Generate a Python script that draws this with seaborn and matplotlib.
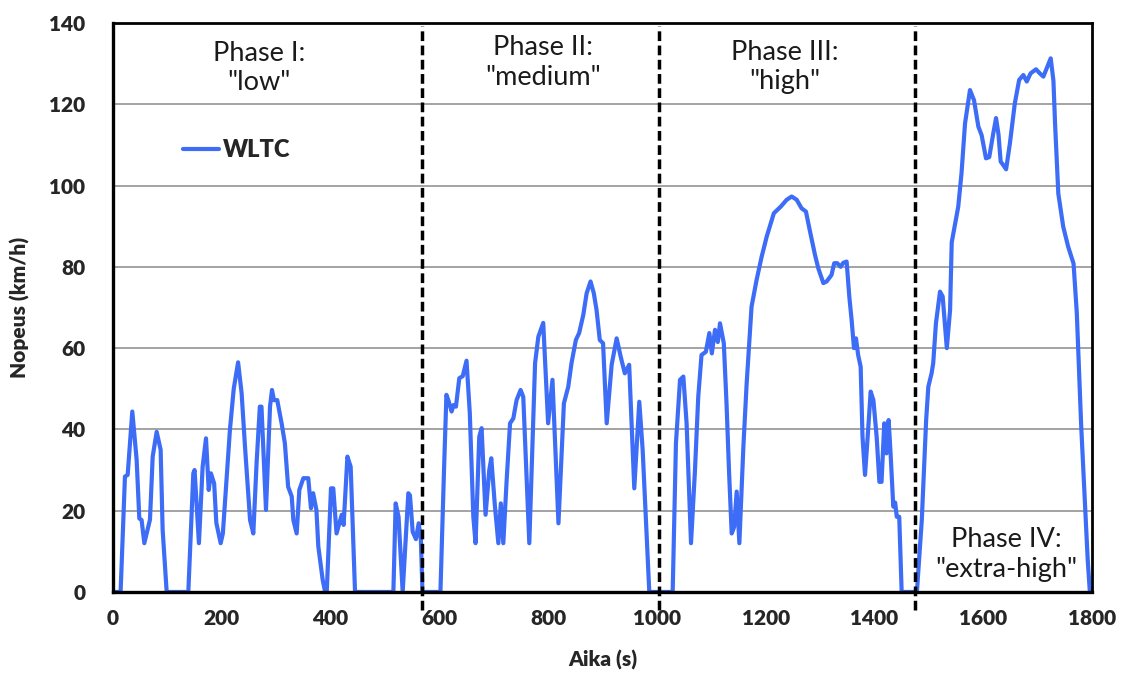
import numpy as np
import pandas as pd
import seaborn as sns
import matplotlib.pyplot as plt

"""
WLTC speed profile, read off the reference
"""
time_s = [0, 14, 22, 27, 35.5, 43.5, 48.4, 52.6, 57.6, 61.9, 68, 73, 80.3, 87.6, 91.3, 98.7,
          138.5, 147.7, 150, 158, 164.8, 171, 176, 180, 186, 190, 198, 202, 215, 222, 230,
          236.5, 242.7, 252, 258, 264, 270, 273, 281.3, 288.7, 292.3, 296, 302, 310, 316,
          322, 328.6, 331.6, 337.7, 342.6, 350, 359, 364, 368, 374, 377.5, 385.5, 390, 393,
          400.8, 405, 411, 420.5, 424, 431, 437, 445, 515.5, 519.7, 525, 532.6, 543, 546,
          551, 557, 562, 566, 569,
          # phase II
          602, 608.6, 613, 617, 622.6, 626, 630.5, 636.7, 643, 650, 656, 662.5, 666.6, 673.4,
          677.7, 685, 691.8, 695.5, 702, 708.5, 713, 717.6, 723.8, 730, 736, 742, 749.4, 754.3,
          765.4, 776, 782, 791, 800, 808, 819, 829, 837, 843, 851, 857, 864.7, 870.8, 878,
          884, 889, 895, 901, 907.7, 916.8, 926, 933.4, 941, 949, 958.4, 967.6, 973.8, 986,
          # phase III
          1029, 1035, 1042.5, 1048.6, 1054.6, 1062.7, 1070, 1076, 1082, 1090, 1096.4, 1101,
          1106.8, 1112, 1116, 1123, 1128, 1132.5, 1137.5, 1142, 1146.7, 1151.6, 1159, 1165,
          1174, 1183.3, 1192.6, 1201.8, 1215, 1227.6, 1238.6, 1247.8, 1257, 1266, 1274,
          1281.5, 1290.7, 1296.8, 1306, 1312, 1321, 1326, 1331.5, 1337.8, 1342.6, 1348.8,
          1353.7, 1358, 1362.3, 1366, 1370, 1374.6, 1378, 1382.6, 1386.7, 1393, 1398, 1404,
          1409, 1413, 1418, 1422, 1426, 1429.6, 1434.6, 1438, 1441, 1445.5, 1450,
          # phase IV
          1478, 1487, 1495, 1499, 1505, 1508, 1513, 1520.5, 1525.4, 1533, 1539, 1542, 1554,
          1560, 1566.5, 1575.6, 1583, 1591, 1597, 1605, 1611, 1618.5, 1623.5, 1628, 1632,
          1637, 1642, 1649, 1658, 1666, 1673.7, 1680, 1687, 1697, 1704, 1710.5, 1718, 1724,
          1729, 1732, 1738, 1747, 1756, 1766, 1772, 1780, 1784, 1792, 1796, 1800]

speed_kmh = [0, 0, 28.4, 28.8, 44.4, 32.5, 18.1, 17.7, 12, 14.4, 17.8, 33.3, 39.4, 35, 15.3, 0,
             0, 29.2, 30, 12, 30.8, 37.8, 25.1, 29.2, 26.7, 17, 12, 14.4, 39.9, 50, 56.5,
             48.9, 35.8, 17.7, 14.4, 31.7, 45.6, 45.6, 20.2, 45.6, 49.7, 47.2, 47.2, 41.5, 36.6,
             25.9, 23.5, 17.7, 14.4, 25.1, 28, 28, 20.6, 24.3, 20.2, 11.2, 3, 0, 0,
             25.5, 25.5, 14.4, 19, 16.5, 33.3, 30.8, 0, 0, 21.8, 18.5, 0, 24.3, 23.8,
             14.8, 13, 16.9, 13, 0,
             0, 30, 48.5, 47, 44.4, 46, 45.6, 52.6, 53.1, 56.9, 44, 18.5, 12, 38.2,
             40.3, 19, 30, 32.9, 21.4, 12, 21.8, 12, 27.6, 41.5, 42.7, 47.2, 49.7, 48,
             12, 56.3, 62.8, 66.2, 41.5, 52.2, 16.9, 46.4, 50.5, 56.3, 62, 63.7, 68.2, 73.5, 76.4,
             73.5, 69.4, 62, 61.2, 41.5, 55.9, 62.4, 57.9, 53.8, 55.9, 25.5, 46.8, 35, 0,
             0, 36.6, 52.2, 53, 41.5, 12, 30, 48, 58.3, 59.1, 63.7, 58.7,
             64.5, 61.5, 66.1, 61.2, 46.4, 30, 14.4, 16, 24.7, 12, 35.8, 51.3,
             70.2, 76.8, 82.5, 87.4, 93.2, 94.8, 96.5, 97.3, 96.5, 94.4, 93.6,
             88.7, 82.9, 79.6, 76, 76.4, 78, 80.9, 80.9, 80, 81, 81.3,
             72.7, 66.9, 60, 62.4, 58.3, 55.4, 38.2, 28.8, 36.6, 49.3, 47.2, 38.2,
             27.1, 27.1, 41.5, 34.1, 42.3, 34.1, 21, 22, 18.5, 18.5, 0,
             0, 17.7, 42.3, 50.5, 53.8, 56.3, 66.1, 73.9, 72.7, 60, 69.4, 86, 94.8,
             103, 115.3, 123.5, 121, 114.5, 112.4, 106.7, 107, 112.9, 116.6, 112.6, 105.9,
             105, 104, 110.4, 120.2, 126, 127.2, 125.6, 127.6, 128.6, 127.6, 126.8, 129.3, 131.3,
             125.8, 115.3, 98, 89.9, 85, 80.8, 68.6, 41, 30, 8, 0, 0]

phase_bounds = [569, 1003, 1475]
phase_names = ['Phase I:\n"low"', 'Phase II:\n"medium"', 'Phase III:\n"high"', 'Phase IV:\n"extra-high"']
phase_text_x = [268, 790, 1235, 1643]
phase_text_y = [128.9, 130.3, 129.1, 9.2]

df = pd.DataFrame({'Aika (s)': time_s, 'Nopeus (km/h)': speed_kmh, 'cycle': 'WLTC'})

"""
Plot
"""
sns.set_style('white')
plt.rcParams['font.family'] = ['Lato', 'DejaVu Sans']

fig = plt.figure(figsize=(11.22, 6.82), dpi=100)
ax = fig.add_axes([0.1007, 0.132, 0.8726, 0.8343])

ax.yaxis.grid(True, color='#8a8a8a', linewidth=1.1)
ax.set_axisbelow(True)

sns.lineplot(data=df, x='Aika (s)', y='Nopeus (km/h)', hue='cycle', palette=['#3d6cf7'],
             estimator=None, sort=False, linewidth=3.0, ax=ax)
ax.lines[-1].set_solid_joinstyle('round')

# phase boundaries (run a bit past the axis bottom like the original)
for b in phase_bounds:
    ax.plot([b, b], [-4.5, 139.3], color='black', linestyle=(0, (2.8, 1.3)),
            linewidth=2.5, clip_on=False, zorder=3)

for name, tx, ty in zip(phase_names, phase_text_x, phase_text_y):
    ax.text(tx, ty, name, ha='center', va='center', fontsize=19.5,
            linespacing=1.22, color='#1a1a1a')

ax.set_xlim(0, 1800)
ax.set_ylim(0, 140)
ax.set_xticks(range(0, 1801, 200))
ax.set_yticks(range(0, 141, 20))

for lbl in ax.get_xticklabels() + ax.get_yticklabels():
    lbl.set_fontweight('heavy')
ax.tick_params(axis='x', direction='in', length=7, width=1, color='#777777', labelsize=15, pad=12)
ax.tick_params(axis='y', direction='in', length=6, width=1, color='#777777', labelsize=15, pad=20)

ax.set_xlabel('Aika (s)', fontsize=15, fontweight='heavy', labelpad=16)
ax.set_ylabel('Nopeus (km/h)', fontsize=15, fontweight='heavy', labelpad=14)

for side in ['left', 'bottom', 'top', 'right']:
    ax.spines[side].set_visible(True)
    ax.spines[side].set_color('black')
    ax.spines[side].set_linewidth(2)
ax.spines['bottom'].set_linewidth(2.4)
ax.spines['left'].set_linewidth(2.4)

leg = ax.legend(loc='center left', bbox_to_anchor=(0.05, 0.777), frameon=False,
                handlelength=1.5, handletextpad=0.2, prop={'weight': 'heavy', 'size': 17})

fig.savefig('out.png', dpi=100)
plt.close()
